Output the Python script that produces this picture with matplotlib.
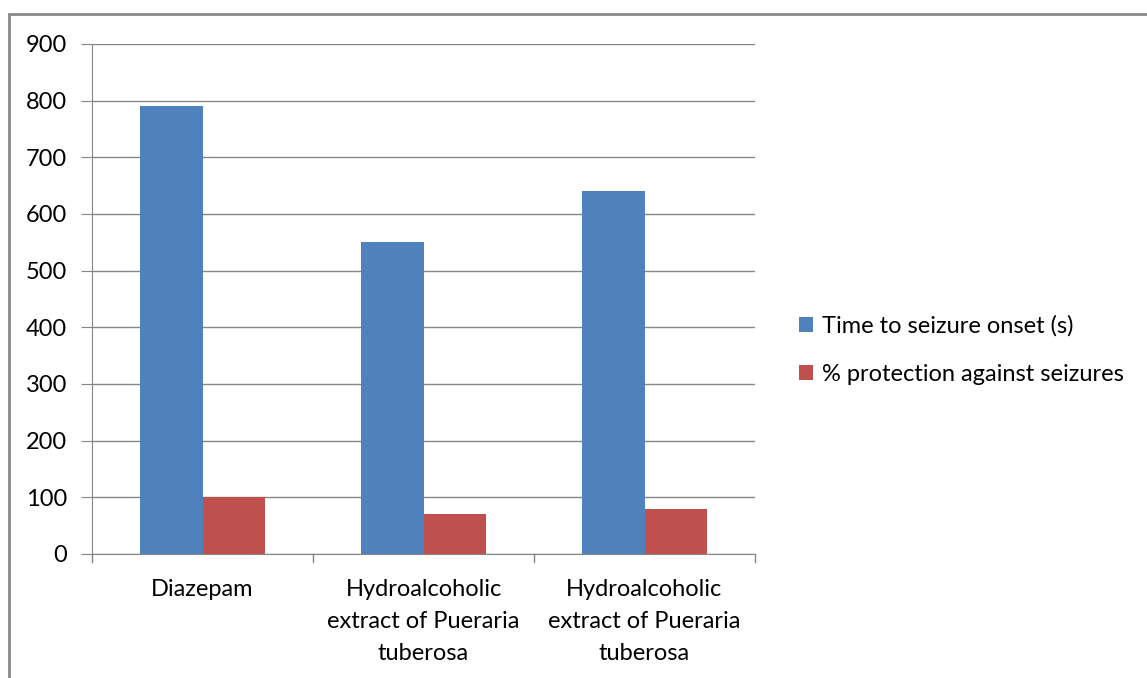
import numpy as np
import matplotlib
matplotlib.use("Agg")
import matplotlib.pyplot as plt
from matplotlib.patches import Rectangle
from matplotlib.lines import Line2D

categories = ["Diazepam",
              "Hydroalcoholic\nextract of Pueraria\ntuberosa",
              "Hydroalcoholic\nextract of Pueraria\ntuberosa"]
time_onset = [790, 550, 640]
protection = [100, 70, 80]
series_names = ["Time to seizure onset (s)", "% protection against seizures"]
yticks = list(range(0, 901, 100))

plt.rcParams['font.family'] = ['Lato', 'DejaVu Sans']
grid_c = "#868686"
blue = "#4f81bd"
red = "#c0504d"
fs = 17

fig = plt.figure(figsize=(11.47, 6.78), dpi=100)
ax = fig.add_axes([92 / 1147, 1 - 554 / 678, (755 - 92) / 1147, (554 - 44) / 678])

x = np.arange(len(categories))
w = 0.283
ax.bar(x - w / 2, time_onset, w, color=blue, label=series_names[0], zorder=3)
ax.bar(x + w / 2, protection, w, color=red, label=series_names[1], zorder=3)

ax.set_xlim(-0.5, len(categories) - 0.5)
ax.set_ylim(0, 900)
ax.set_yticks(yticks)
ax.yaxis.grid(True, color=grid_c, linewidth=1, zorder=0)
ax.tick_params(axis='y', length=8, color=grid_c, labelsize=fs, pad=10, labelcolor="#000000")

# category labels centred, ticks on boundaries
ax.set_xticks(x)
ax.set_xticklabels(categories, fontsize=fs, linespacing=1.65)
ax.tick_params(axis='x', length=0, pad=18)
for b in np.arange(-0.5, len(categories), 1.0):
    ax.add_line(Line2D([b, b], [0, -8 / 510], transform=ax.get_xaxis_transform(),
                       color=grid_c, linewidth=1, clip_on=False))

for s in ["top", "right"]:
    ax.spines[s].set_visible(False)
ax.spines["left"].set_color(grid_c)
ax.spines["bottom"].set_color(grid_c)

ax.legend(loc="center left", bbox_to_anchor=(778 / 1147, 1 - 350 / 678),
          bbox_transform=fig.transFigure, frameon=False, fontsize=fs,
          handlelength=0.6, handleheight=0.6, handletextpad=0.35, labelspacing=1.15)

# outer chart border (only top/left visible in the crop)
fig.add_artist(Rectangle((9 / 1147, -0.1), 1.2, 1 - 14 / 678 + 0.1,
                         transform=fig.transFigure, fill=False,
                         edgecolor="#898989", linewidth=2))

fig.savefig("out.png", dpi=100)
